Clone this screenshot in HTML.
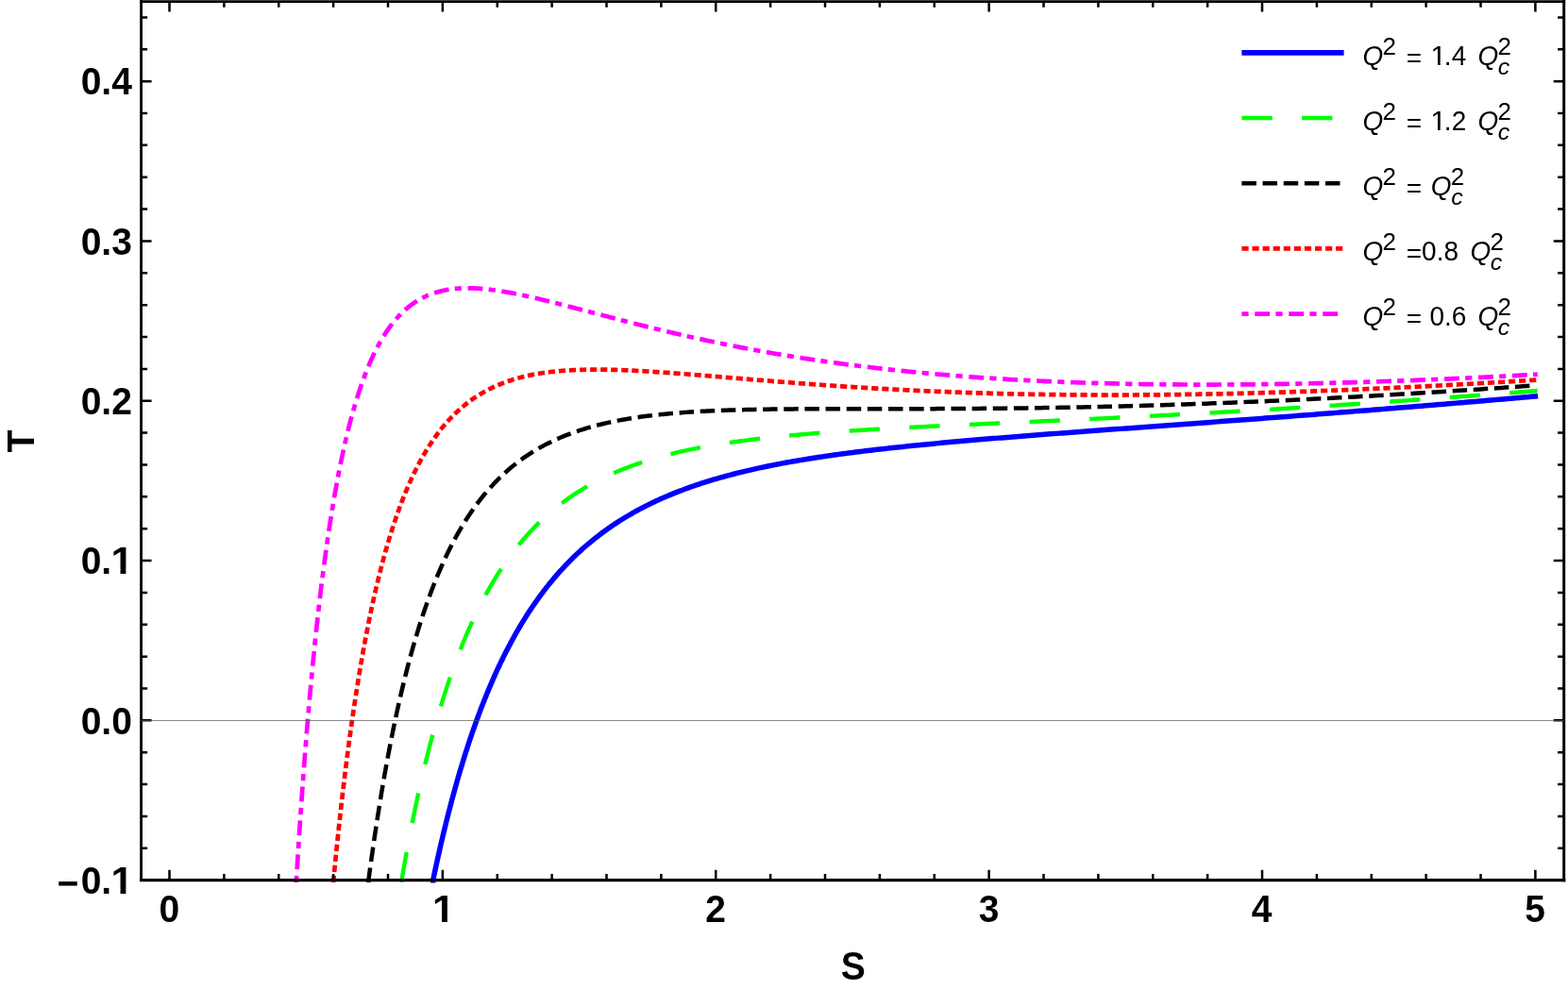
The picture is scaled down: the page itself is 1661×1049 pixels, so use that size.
<!DOCTYPE html>
<html lang="en"><head><meta charset="utf-8"><title>T versus S</title>
<style>html,body{margin:0;padding:0;background:#fff;}body{width:1661px;height:1049px;overflow:hidden;}svg{display:block;}text{font-family:"Liberation Sans",Arial,Helvetica,sans-serif;fill:#000;}</style></head><body>
<svg width="1661" height="1049" viewBox="0 0 1661 1049">
<rect x="0" y="0" width="1661" height="1049" fill="#ffffff"/>
<defs><clipPath id="one0"><path d="M438.02,933.35 H503.88 V972.00 H473.88 V981.30 H468.02 V972.00 H438.02 Z"/></clipPath><clipPath id="one1"><path d="M97.53,902.95 H163.39 V942.00 H133.39 V950.90 H127.53 V942.00 H97.53 Z"/></clipPath><clipPath id="one2"><path d="M97.53,564.35 H163.39 V603.00 H133.39 V612.30 H127.53 V603.00 H97.53 Z"/></clipPath><clipPath id="one3"><path d="M1492.98,36.39 H1555.70 V66.00 H1525.70 V72.65 H1522.98 V66.00 H1492.98 Z"/></clipPath><clipPath id="one4"><path d="M1492.98,105.44 H1555.70 V135.00 H1525.70 V141.70 H1522.98 V135.00 H1492.98 Z"/></clipPath></defs>
<g fill="none" stroke-linecap="square" stroke-linejoin="round">
<path d="M458.70,932.65 L458.70,932.65 L458.70,932.63 L458.71,932.60 L458.72,932.56 L458.73,932.50 L458.75,932.43 L458.76,932.34 L458.79,932.23 L458.81,932.11 L458.84,931.96 L458.88,931.80 L458.91,931.63 L458.95,931.43 L459.00,931.21 L459.05,930.98 L459.10,930.72 L459.16,930.45 L459.22,930.16 L459.29,929.84 L459.36,929.51 L459.43,929.15 L459.51,928.78 L459.59,928.38 L459.68,927.97 L459.77,927.53 L459.87,927.07 L459.97,926.59 L460.08,926.09 L460.19,925.57 L460.30,925.03 L460.42,924.47 L460.55,923.88 L460.68,923.28 L460.81,922.65 L460.95,922.00 L461.09,921.33 L461.24,920.64 L461.40,919.92 L461.56,919.19 L461.72,918.43 L461.89,917.65 L462.06,916.85 L462.24,916.03 L462.42,915.19 L462.61,914.33 L462.81,913.44 L463.00,912.54 L463.21,911.61 L463.42,910.66 L463.63,909.70 L463.85,908.71 L464.08,907.70 L464.31,906.67 L464.54,905.62 L464.78,904.54 L465.03,903.45 L465.28,902.34 L465.54,901.21 L465.80,900.06 L466.07,898.88 L466.34,897.69 L466.62,896.48 L466.90,895.25 L467.19,894.00 L467.49,892.73 L467.79,891.45 L468.09,890.14 L468.40,888.82 L468.72,887.47 L469.04,886.11 L469.37,884.73 L469.70,883.34 L470.04,881.92 L470.39,880.49 L470.74,879.04 L471.09,877.58 L471.45,876.09 L471.82,874.59 L472.19,873.08 L472.57,871.55 L472.96,870.00 L473.35,868.44 L473.74,866.86 L474.15,865.26 L474.55,863.66 L474.97,862.03 L475.38,860.39 L475.81,858.74 L476.24,857.08 L476.68,855.40 L477.12,853.70 L477.57,852.00 L478.02,850.28 L478.48,848.54 L478.95,846.80 L479.42,845.04 L479.90,843.27 L480.38,841.49 L480.87,839.70 L481.37,837.90 L481.87,836.08 L482.38,834.26 L482.89,832.42 L483.41,830.58 L483.94,828.72 L484.47,826.86 L485.00,824.98 L485.55,823.10 L486.10,821.21 L486.65,819.31 L487.22,817.40 L487.79,815.49 L488.36,813.56 L488.94,811.63 L489.53,809.69 L490.12,807.75 L490.72,805.80 L491.32,803.84 L491.93,801.87 L492.55,799.90 L493.18,797.93 L493.81,795.95 L494.44,793.96 L495.08,791.97 L495.73,789.98 L496.39,787.98 L497.05,785.98 L497.72,783.97 L498.39,781.96 L499.07,779.95 L499.76,777.94 L500.45,775.92 L501.15,773.90 L501.85,771.88 L502.57,769.85 L503.28,767.83 L504.01,765.80 L504.74,763.77 L505.48,761.74 L506.22,759.71 L506.97,757.69 L507.73,755.66 L508.49,753.63 L509.26,751.60 L510.03,749.57 L510.82,747.54 L511.60,745.52 L512.40,743.49 L513.20,741.47 L514.01,739.44 L514.82,737.43 L515.64,735.41 L516.47,733.39 L517.31,731.38 L518.15,729.37 L518.99,727.36 L519.85,725.36 L520.71,723.36 L521.57,721.36 L522.45,719.37 L523.33,717.38 L524.21,715.40 L525.11,713.42 L526.01,711.44 L526.91,709.47 L527.82,707.50 L528.74,705.54 L529.67,703.59 L530.60,701.64 L531.54,699.69 L532.49,697.75 L533.44,695.82 L534.40,693.89 L535.37,691.97 L536.34,690.06 L537.32,688.15 L538.30,686.25 L539.30,684.36 L540.30,682.47 L541.30,680.59 L542.32,678.71 L543.34,676.85 L544.36,674.99 L545.40,673.14 L546.44,671.30 L547.48,669.46 L548.54,667.64 L549.60,665.82 L550.66,664.01 L551.74,662.20 L552.82,660.41 L553.90,658.62 L555.00,656.85 L556.10,655.08 L557.21,653.32 L558.32,651.57 L559.44,649.82 L560.57,648.09 L561.71,646.37 L562.85,644.65 L564.00,642.95 L565.16,641.25 L566.32,639.57 L567.49,637.89 L568.67,636.22 L569.85,634.56 L571.04,632.91 L572.24,631.28 L573.44,629.65 L574.65,628.03 L575.87,626.42 L577.10,624.82 L578.33,623.23 L579.57,621.65 L580.81,620.08 L582.07,618.52 L583.33,616.97 L584.59,615.43 L585.87,613.90 L587.15,612.39 L588.44,610.88 L589.73,609.38 L591.03,607.89 L592.34,606.41 L593.66,604.95 L594.98,603.49 L596.31,602.04 L597.65,600.61 L598.99,599.18 L600.34,597.76 L601.70,596.36 L603.07,594.96 L604.44,593.58 L605.82,592.20 L607.21,590.84 L608.60,589.49 L610.00,588.14 L611.41,586.81 L612.82,585.49 L614.25,584.18 L615.68,582.87 L617.11,581.58 L618.56,580.30 L620.01,579.03 L621.47,577.77 L622.93,576.52 L624.40,575.28 L625.88,574.05 L627.37,572.83 L628.86,571.62 L630.36,570.42 L631.87,569.23 L633.39,568.05 L634.91,566.88 L636.44,565.72 L637.98,564.57 L639.52,563.43 L641.07,562.30 L642.63,561.18 L644.20,560.07 L645.77,558.96 L647.35,557.87 L648.94,556.79 L650.53,555.72 L652.14,554.66 L653.75,553.61 L655.36,552.56 L656.99,551.53 L658.62,550.50 L660.26,549.49 L661.90,548.48 L663.56,547.49 L665.22,546.50 L666.88,545.52 L668.56,544.55 L670.24,543.59 L671.93,542.64 L673.63,541.70 L675.33,540.77 L677.05,539.84 L678.77,538.93 L680.49,538.02 L682.23,537.12 L683.97,536.24 L685.72,535.36 L687.47,534.48 L689.24,533.62 L691.01,532.76 L692.78,531.92 L694.57,531.08 L696.36,530.25 L698.16,529.43 L699.97,528.61 L701.79,527.81 L703.61,527.01 L705.44,526.22 L707.28,525.43 L709.12,524.66 L710.98,523.89 L712.84,523.13 L714.70,522.38 L716.58,521.64 L718.46,520.90 L720.35,520.17 L722.25,519.45 L724.15,518.74 L726.06,518.03 L727.98,517.33 L729.91,516.64 L731.85,515.95 L733.79,515.27 L735.74,514.60 L737.69,513.93 L739.66,513.27 L741.63,512.62 L743.61,511.98 L745.60,511.34 L747.59,510.71 L749.60,510.08 L751.61,509.46 L753.62,508.85 L755.65,508.24 L757.68,507.64 L759.72,507.05 L761.77,506.46 L763.82,505.88 L765.89,505.30 L767.96,504.73 L770.04,504.17 L772.12,503.61 L774.21,503.06 L776.32,502.51 L778.42,501.97 L780.54,501.43 L782.66,500.90 L784.80,500.38 L786.93,499.86 L789.08,499.34 L791.23,498.84 L793.40,498.33 L795.57,497.83 L797.74,497.34 L799.93,496.85 L802.12,496.37 L804.32,495.89 L806.53,495.41 L808.74,494.94 L810.97,494.48 L813.20,494.02 L815.44,493.56 L817.68,493.11 L819.94,492.66 L822.20,492.22 L824.47,491.78 L826.74,491.35 L829.03,490.92 L831.32,490.50 L833.62,490.07 L835.93,489.66 L838.25,489.24 L840.57,488.83 L842.90,488.43 L845.24,488.03 L847.58,487.63 L849.94,487.24 L852.30,486.85 L854.67,486.46 L857.05,486.08 L859.43,485.70 L861.83,485.32 L864.23,484.95 L866.64,484.58 L869.05,484.21 L871.48,483.85 L873.91,483.49 L876.35,483.13 L878.80,482.78 L881.25,482.43 L883.72,482.08 L886.19,481.74 L888.67,481.40 L891.15,481.06 L893.65,480.72 L896.15,480.39 L898.66,480.06 L901.18,479.73 L903.70,479.41 L906.24,479.09 L908.78,478.77 L911.33,478.45 L913.88,478.14 L916.45,477.82 L919.02,477.51 L921.60,477.21 L924.19,476.90 L926.79,476.60 L929.39,476.30 L932.00,476.00 L934.63,475.70 L937.25,475.41 L939.89,475.11 L942.53,474.82 L945.18,474.53 L947.84,474.25 L950.51,473.96 L953.19,473.68 L955.87,473.40 L958.56,473.12 L961.26,472.84 L963.97,472.56 L966.68,472.29 L969.41,472.01 L972.14,471.74 L974.88,471.47 L977.62,471.20 L980.38,470.94 L983.14,470.67 L985.91,470.41 L988.69,470.14 L991.48,469.88 L994.27,469.62 L997.08,469.36 L999.89,469.10 L1002.71,468.85 L1005.53,468.59 L1008.37,468.33 L1011.21,468.08 L1014.06,467.83 L1016.92,467.57 L1019.79,467.32 L1022.66,467.07 L1025.54,466.82 L1028.43,466.58 L1031.33,466.33 L1034.24,466.08 L1037.15,465.84 L1040.08,465.59 L1043.01,465.35 L1045.95,465.10 L1048.89,464.86 L1051.85,464.61 L1054.81,464.37 L1057.78,464.13 L1060.76,463.89 L1063.75,463.65 L1066.74,463.41 L1069.75,463.17 L1072.76,462.93 L1075.78,462.69 L1078.81,462.45 L1081.84,462.21 L1084.89,461.98 L1087.94,461.74 L1091.00,461.50 L1094.07,461.26 L1097.14,461.03 L1100.23,460.79 L1103.32,460.55 L1106.42,460.32 L1109.53,460.08 L1112.64,459.84 L1115.77,459.61 L1118.90,459.37 L1122.04,459.13 L1125.19,458.90 L1128.35,458.66 L1131.51,458.42 L1134.69,458.19 L1137.87,457.95 L1141.06,457.71 L1144.26,457.48 L1147.46,457.24 L1150.68,457.00 L1153.90,456.76 L1157.13,456.53 L1160.37,456.29 L1163.62,456.05 L1166.87,455.81 L1170.14,455.57 L1173.41,455.33 L1176.69,455.09 L1179.98,454.85 L1183.27,454.61 L1186.58,454.37 L1189.89,454.13 L1193.21,453.89 L1196.54,453.65 L1199.88,453.40 L1203.22,453.16 L1206.58,452.92 L1209.94,452.67 L1213.31,452.43 L1216.69,452.18 L1220.07,451.94 L1223.47,451.69 L1226.87,451.44 L1230.28,451.19 L1233.70,450.95 L1237.13,450.70 L1240.57,450.45 L1244.01,450.20 L1247.46,449.94 L1250.92,449.69 L1254.39,449.44 L1257.87,449.19 L1261.36,448.93 L1264.85,448.68 L1268.35,448.42 L1271.86,448.16 L1275.38,447.91 L1278.91,447.65 L1282.44,447.39 L1285.99,447.13 L1289.54,446.87 L1293.10,446.60 L1296.67,446.34 L1300.25,446.08 L1303.83,445.81 L1307.42,445.55 L1311.03,445.28 L1314.64,445.01 L1318.25,444.74 L1321.88,444.47 L1325.52,444.20 L1329.16,443.93 L1332.81,443.66 L1336.47,443.39 L1340.14,443.11 L1343.82,442.84 L1347.50,442.56 L1351.20,442.28 L1354.90,442.00 L1358.61,441.72 L1362.33,441.44 L1366.05,441.16 L1369.79,440.87 L1373.53,440.59 L1377.29,440.30 L1381.05,440.02 L1384.81,439.73 L1388.59,439.44 L1392.38,439.15 L1396.17,438.85 L1399.97,438.56 L1403.78,438.27 L1407.60,437.97 L1411.43,437.67 L1415.27,437.38 L1419.11,437.08 L1422.96,436.78 L1426.83,436.47 L1430.70,436.17 L1434.57,435.87 L1438.46,435.56 L1442.36,435.25 L1446.26,434.94 L1450.17,434.64 L1454.09,434.32 L1458.02,434.01 L1461.96,433.70 L1465.90,433.38 L1469.86,433.07 L1473.82,432.75 L1477.79,432.43 L1481.77,432.11 L1485.76,431.79 L1489.75,431.46 L1493.76,431.14 L1497.77,430.81 L1501.79,430.48 L1505.82,430.15 L1509.86,429.82 L1513.91,429.49 L1517.97,429.16 L1522.03,428.82 L1526.10,428.49 L1530.18,428.15 L1534.27,427.81 L1538.37,427.47 L1542.48,427.13 L1546.59,426.78 L1550.72,426.44 L1554.85,426.09 L1558.99,425.74 L1563.14,425.39 L1567.30,425.04 L1571.46,424.69 L1575.64,424.33 L1579.82,423.98 L1584.01,423.62 L1588.21,423.26 L1592.42,422.90 L1596.64,422.54 L1600.86,422.17 L1605.10,421.81 L1609.34,421.44 L1613.59,421.07 L1617.85,420.70 L1622.12,420.33 L1626.40,419.96" stroke="#0000ff" stroke-width="5.5"/>
<path d="M425.47,932.65 L425.47,932.64 L425.47,932.62 L425.48,932.59 L425.48,932.53 L425.50,932.46 L425.51,932.37 L425.53,932.26 L425.56,932.12 L425.58,931.97 L425.61,931.79 L425.65,931.59 L425.68,931.36 L425.73,931.12 L425.77,930.84 L425.82,930.55 L425.88,930.23 L425.94,929.88 L426.00,929.52 L426.07,929.12 L426.14,928.70 L426.22,928.26 L426.30,927.79 L426.38,927.29 L426.47,926.77 L426.57,926.22 L426.67,925.65 L426.77,925.04 L426.88,924.42 L427.00,923.76 L427.11,923.08 L427.24,922.38 L427.37,921.65 L427.50,920.89 L427.64,920.10 L427.78,919.29 L427.93,918.45 L428.08,917.58 L428.24,916.69 L428.40,915.77 L428.57,914.83 L428.74,913.86 L428.92,912.86 L429.11,911.83 L429.30,910.79 L429.49,909.71 L429.69,908.61 L429.89,907.48 L430.10,906.33 L430.32,905.15 L430.54,903.94 L430.76,902.71 L431.00,901.46 L431.23,900.18 L431.47,898.87 L431.72,897.54 L431.98,896.19 L432.23,894.81 L432.50,893.41 L432.77,891.98 L433.04,890.54 L433.32,889.06 L433.61,887.57 L433.90,886.05 L434.20,884.51 L434.50,882.94 L434.81,881.36 L435.12,879.75 L435.44,878.12 L435.77,876.47 L436.10,874.79 L436.44,873.10 L436.78,871.39 L437.13,869.65 L437.49,867.90 L437.85,866.13 L438.21,864.33 L438.58,862.52 L438.96,860.69 L439.34,858.84 L439.73,856.97 L440.13,855.09 L440.53,853.19 L440.94,851.27 L441.35,849.33 L441.77,847.38 L442.19,845.41 L442.63,843.42 L443.06,841.42 L443.51,839.41 L443.95,837.38 L444.41,835.33 L444.87,833.28 L445.34,831.20 L445.81,829.12 L446.29,827.02 L446.78,824.91 L447.27,822.79 L447.76,820.65 L448.27,818.51 L448.78,816.35 L449.29,814.18 L449.82,812.00 L450.34,809.81 L450.88,807.62 L451.42,805.41 L451.97,803.19 L452.52,800.97 L453.08,798.73 L453.64,796.49 L454.22,794.25 L454.79,791.99 L455.38,789.73 L455.97,787.46 L456.57,785.19 L457.17,782.91 L457.78,780.62 L458.40,778.33 L459.02,776.04 L459.65,773.74 L460.28,771.44 L460.92,769.13 L461.57,766.82 L462.23,764.51 L462.89,762.20 L463.55,759.88 L464.23,757.56 L464.91,755.24 L465.59,752.92 L466.29,750.60 L466.99,748.28 L467.69,745.96 L468.40,743.64 L469.12,741.32 L469.85,739.00 L470.58,736.68 L471.32,734.36 L472.06,732.05 L472.82,729.73 L473.57,727.42 L474.34,725.11 L475.11,722.81 L475.89,720.51 L476.67,718.21 L477.46,715.91 L478.26,713.62 L479.07,711.34 L479.88,709.06 L480.69,706.78 L481.52,704.51 L482.35,702.24 L483.19,699.98 L484.03,697.73 L484.88,695.48 L485.74,693.24 L486.60,691.01 L487.48,688.78 L488.35,686.56 L489.24,684.35 L490.13,682.14 L491.03,679.94 L491.93,677.75 L492.84,675.57 L493.76,673.40 L494.69,671.23 L495.62,669.08 L496.56,666.93 L497.50,664.79 L498.46,662.67 L499.42,660.55 L500.38,658.44 L501.35,656.34 L502.33,654.25 L503.32,652.17 L504.31,650.10 L505.31,648.04 L506.32,646.00 L507.34,643.96 L508.36,641.94 L509.38,639.92 L510.42,637.92 L511.46,635.93 L512.51,633.95 L513.57,631.98 L514.63,630.02 L515.70,628.07 L516.77,626.14 L517.86,624.22 L518.95,622.31 L520.05,620.41 L521.15,618.53 L522.26,616.66 L523.38,614.79 L524.51,612.95 L525.64,611.11 L526.78,609.29 L527.92,607.48 L529.08,605.68 L530.24,603.90 L531.41,602.13 L532.58,600.37 L533.76,598.62 L534.95,596.89 L536.15,595.17 L537.35,593.47 L538.56,591.77 L539.78,590.09 L541.00,588.43 L542.23,586.78 L543.47,585.14 L544.72,583.51 L545.97,581.90 L547.23,580.30 L548.50,578.71 L549.77,577.14 L551.05,575.58 L552.34,574.03 L553.64,572.50 L554.94,570.98 L556.25,569.47 L557.57,567.98 L558.89,566.50 L560.23,565.03 L561.57,563.58 L562.91,562.14 L564.26,560.71 L565.63,559.30 L566.99,557.90 L568.37,556.51 L569.75,555.14 L571.14,553.78 L572.54,552.43 L573.94,551.09 L575.35,549.77 L576.77,548.46 L578.20,547.17 L579.63,545.89 L581.07,544.62 L582.52,543.36 L583.98,542.12 L585.44,540.88 L586.91,539.67 L588.39,538.46 L589.87,537.27 L591.36,536.08 L592.86,534.92 L594.37,533.76 L595.89,532.62 L597.41,531.48 L598.94,530.36 L600.47,529.26 L602.02,528.16 L603.57,527.08 L605.13,526.01 L606.69,524.95 L608.26,523.90 L609.85,522.86 L611.43,521.84 L613.03,520.83 L614.63,519.83 L616.24,518.84 L617.86,517.86 L619.49,516.89 L621.12,515.94 L622.76,514.99 L624.41,514.06 L626.06,513.14 L627.73,512.22 L629.40,511.32 L631.07,510.43 L632.76,509.55 L634.45,508.69 L636.15,507.83 L637.86,506.98 L639.58,506.14 L641.30,505.32 L643.03,504.50 L644.77,503.69 L646.51,502.89 L648.27,502.11 L650.03,501.33 L651.79,500.56 L653.57,499.81 L655.35,499.06 L657.14,498.32 L658.94,497.59 L660.75,496.87 L662.56,496.16 L664.38,495.46 L666.21,494.77 L668.05,494.08 L669.89,493.41 L671.75,492.74 L673.60,492.08 L675.47,491.44 L677.35,490.80 L679.23,490.16 L681.12,489.54 L683.02,488.93 L684.92,488.32 L686.83,487.72 L688.75,487.13 L690.68,486.55 L692.62,485.97 L694.56,485.41 L696.51,484.85 L698.47,484.30 L700.44,483.75 L702.41,483.22 L704.40,482.69 L706.39,482.17 L708.38,481.65 L710.39,481.14 L712.40,480.64 L714.42,480.15 L716.45,479.66 L718.49,479.18 L720.53,478.71 L722.58,478.24 L724.64,477.78 L726.71,477.33 L728.78,476.88 L730.87,476.44 L732.96,476.00 L735.05,475.57 L737.16,475.15 L739.27,474.73 L741.40,474.32 L743.53,473.92 L745.66,473.52 L747.81,473.12 L749.96,472.74 L752.12,472.35 L754.29,471.97 L756.47,471.60 L758.65,471.24 L760.84,470.87 L763.04,470.52 L765.25,470.17 L767.47,469.82 L769.69,469.48 L771.92,469.14 L774.16,468.81 L776.41,468.48 L778.66,468.16 L780.92,467.84 L783.19,467.53 L785.47,467.22 L787.76,466.91 L790.05,466.61 L792.36,466.31 L794.67,466.02 L796.98,465.73 L799.31,465.45 L801.64,465.17 L803.99,464.89 L806.34,464.62 L808.69,464.35 L811.06,464.08 L813.43,463.82 L815.81,463.56 L818.20,463.30 L820.60,463.05 L823.01,462.80 L825.42,462.56 L827.84,462.32 L830.27,462.08 L832.71,461.84 L835.15,461.61 L837.61,461.38 L840.07,461.15 L842.54,460.93 L845.01,460.71 L847.50,460.49 L849.99,460.28 L852.49,460.06 L855.00,459.85 L857.52,459.64 L860.04,459.44 L862.58,459.24 L865.12,459.03 L867.67,458.84 L870.23,458.64 L872.79,458.45 L875.36,458.25 L877.95,458.07 L880.54,457.88 L883.13,457.69 L885.74,457.51 L888.35,457.33 L890.98,457.15 L893.61,456.97 L896.24,456.79 L898.89,456.62 L901.54,456.45 L904.21,456.27 L906.88,456.10 L909.55,455.94 L912.24,455.77 L914.94,455.60 L917.64,455.44 L920.35,455.28 L923.07,455.12 L925.80,454.96 L928.53,454.80 L931.28,454.64 L934.03,454.48 L936.79,454.33 L939.56,454.18 L942.33,454.02 L945.12,453.87 L947.91,453.72 L950.71,453.57 L953.52,453.42 L956.33,453.27 L959.16,453.12 L961.99,452.97 L964.83,452.83 L967.68,452.68 L970.54,452.54 L973.41,452.39 L976.28,452.25 L979.16,452.11 L982.06,451.96 L984.95,451.82 L987.86,451.68 L990.78,451.54 L993.70,451.40 L996.63,451.25 L999.57,451.11 L1002.52,450.97 L1005.48,450.83 L1008.44,450.69 L1011.41,450.55 L1014.40,450.41 L1017.39,450.27 L1020.38,450.14 L1023.39,450.00 L1026.40,449.86 L1029.43,449.72 L1032.46,449.58 L1035.50,449.44 L1038.54,449.30 L1041.60,449.16 L1044.66,449.02 L1047.74,448.88 L1050.82,448.74 L1053.90,448.60 L1057.00,448.46 L1060.11,448.32 L1063.22,448.18 L1066.34,448.03 L1069.47,447.89 L1072.61,447.75 L1075.76,447.61 L1078.91,447.46 L1082.08,447.32 L1085.25,447.18 L1088.43,447.03 L1091.62,446.89 L1094.82,446.74 L1098.02,446.60 L1101.24,446.45 L1104.46,446.30 L1107.69,446.15 L1110.93,446.01 L1114.17,445.86 L1117.43,445.71 L1120.69,445.56 L1123.97,445.40 L1127.25,445.25 L1130.54,445.10 L1133.83,444.95 L1137.14,444.79 L1140.45,444.64 L1143.78,444.48 L1147.11,444.32 L1150.45,444.17 L1153.79,444.01 L1157.15,443.85 L1160.52,443.69 L1163.89,443.53 L1167.27,443.36 L1170.66,443.20 L1174.06,443.04 L1177.47,442.87 L1180.88,442.70 L1184.31,442.54 L1187.74,442.37 L1191.18,442.20 L1194.63,442.03 L1198.09,441.85 L1201.55,441.68 L1205.03,441.51 L1208.51,441.33 L1212.00,441.16 L1215.50,440.98 L1219.01,440.80 L1222.53,440.62 L1226.05,440.44 L1229.58,440.26 L1233.13,440.07 L1236.68,439.89 L1240.24,439.70 L1243.81,439.51 L1247.38,439.32 L1250.97,439.13 L1254.56,438.94 L1258.16,438.75 L1261.77,438.56 L1265.39,438.36 L1269.02,438.16 L1272.65,437.97 L1276.30,437.77 L1279.95,437.57 L1283.61,437.36 L1287.28,437.16 L1290.96,436.95 L1294.65,436.75 L1298.35,436.54 L1302.05,436.33 L1305.76,436.12 L1309.48,435.91 L1313.21,435.69 L1316.95,435.48 L1320.70,435.26 L1324.46,435.04 L1328.22,434.82 L1331.99,434.60 L1335.77,434.38 L1339.56,434.15 L1343.36,433.92 L1347.17,433.70 L1350.99,433.47 L1354.81,433.24 L1358.64,433.00 L1362.49,432.77 L1366.34,432.53 L1370.20,432.30 L1374.06,432.06 L1377.94,431.82 L1381.82,431.57 L1385.72,431.33 L1389.62,431.08 L1393.53,430.84 L1397.45,430.59 L1401.38,430.34 L1405.31,430.09 L1409.26,429.83 L1413.21,429.58 L1417.17,429.32 L1421.15,429.06 L1425.13,428.80 L1429.11,428.54 L1433.11,428.27 L1437.12,428.01 L1441.13,427.74 L1445.16,427.47 L1449.19,427.20 L1453.23,426.92 L1457.28,426.65 L1461.33,426.37 L1465.40,426.09 L1469.48,425.81 L1473.56,425.53 L1477.65,425.25 L1481.75,424.96 L1485.86,424.68 L1489.98,424.39 L1494.11,424.10 L1498.25,423.80 L1502.39,423.51 L1506.55,423.21 L1510.71,422.92 L1514.88,422.62 L1519.06,422.31 L1523.25,422.01 L1527.44,421.71 L1531.65,421.40 L1535.87,421.09 L1540.09,420.78 L1544.32,420.47 L1548.56,420.15 L1552.81,419.84 L1557.07,419.52 L1561.34,419.20 L1565.61,418.88 L1569.90,418.55 L1574.19,418.23 L1578.49,417.90 L1582.81,417.57 L1587.13,417.24 L1591.45,416.91 L1595.79,416.57 L1600.14,416.23 L1604.49,415.89 L1608.86,415.55 L1613.23,415.21 L1617.61,414.87 L1622.00,414.52 L1626.40,414.17" stroke="#00ff00" stroke-width="4.4" stroke-dasharray="27.90 35.80"/>
<path d="M390.40,932.65 L390.40,932.64 L390.41,932.62 L390.41,932.57 L390.42,932.50 L390.44,932.40 L390.45,932.28 L390.47,932.13 L390.49,931.95 L390.52,931.74 L390.55,931.51 L390.59,931.24 L390.63,930.94 L390.67,930.62 L390.72,930.26 L390.77,929.87 L390.83,929.44 L390.89,928.99 L390.95,928.50 L391.02,927.98 L391.10,927.42 L391.18,926.84 L391.26,926.21 L391.35,925.56 L391.44,924.87 L391.54,924.15 L391.64,923.39 L391.75,922.59 L391.86,921.77 L391.98,920.91 L392.10,920.01 L392.23,919.08 L392.36,918.11 L392.50,917.11 L392.64,916.08 L392.78,915.01 L392.94,913.91 L393.09,912.77 L393.26,911.60 L393.42,910.39 L393.60,909.15 L393.78,907.88 L393.96,906.57 L394.15,905.23 L394.34,903.85 L394.54,902.45 L394.75,901.01 L394.96,899.53 L395.18,898.03 L395.40,896.49 L395.62,894.92 L395.86,893.31 L396.09,891.68 L396.34,890.01 L396.59,888.32 L396.84,886.59 L397.10,884.83 L397.37,883.04 L397.64,881.23 L397.92,879.38 L398.20,877.50 L398.49,875.60 L398.78,873.67 L399.08,871.71 L399.39,869.72 L399.70,867.70 L400.02,865.66 L400.34,863.59 L400.67,861.50 L401.01,859.38 L401.35,857.23 L401.70,855.07 L402.05,852.87 L402.41,850.66 L402.77,848.42 L403.14,846.15 L403.52,843.87 L403.90,841.56 L404.29,839.24 L404.69,836.89 L405.09,834.52 L405.49,832.13 L405.91,829.72 L406.33,827.30 L406.75,824.85 L407.18,822.39 L407.62,819.91 L408.06,817.41 L408.51,814.90 L408.97,812.37 L409.43,809.83 L409.90,807.27 L410.37,804.70 L410.85,802.12 L411.34,799.52 L411.83,796.91 L412.33,794.29 L412.84,791.65 L413.35,789.01 L413.87,786.35 L414.40,783.69 L414.93,781.01 L415.46,778.33 L416.01,775.64 L416.56,772.94 L417.11,770.23 L417.68,767.52 L418.25,764.80 L418.82,762.08 L419.40,759.35 L419.99,756.61 L420.59,753.87 L421.19,751.13 L421.80,748.39 L422.41,745.64 L423.03,742.89 L423.66,740.14 L424.29,737.38 L424.93,734.63 L425.58,731.88 L426.24,729.12 L426.90,726.37 L427.56,723.62 L428.24,720.87 L428.92,718.12 L429.60,715.37 L430.30,712.63 L431.00,709.89 L431.70,707.16 L432.41,704.42 L433.13,701.70 L433.86,698.98 L434.59,696.26 L435.33,693.55 L436.08,690.85 L436.83,688.15 L437.59,685.46 L438.36,682.78 L439.13,680.10 L439.91,677.44 L440.70,674.78 L441.50,672.13 L442.30,669.49 L443.10,666.86 L443.92,664.24 L444.74,661.63 L445.57,659.03 L446.40,656.44 L447.24,653.86 L448.09,651.30 L448.95,648.74 L449.81,646.20 L450.68,643.67 L451.55,641.15 L452.44,638.65 L453.33,636.15 L454.22,633.67 L455.13,631.21 L456.04,628.76 L456.95,626.32 L457.88,623.90 L458.81,621.49 L459.75,619.09 L460.69,616.71 L461.64,614.35 L462.60,612.00 L463.57,609.67 L464.54,607.35 L465.52,605.05 L466.51,602.76 L467.51,600.49 L468.51,598.24 L469.52,596.00 L470.53,593.78 L471.55,591.57 L472.58,589.39 L473.62,587.21 L474.66,585.06 L475.71,582.92 L476.77,580.80 L477.84,578.70 L478.91,576.62 L479.99,574.55 L481.07,572.50 L482.17,570.47 L483.27,568.45 L484.38,566.45 L485.49,564.47 L486.61,562.51 L487.74,560.57 L488.88,558.64 L490.02,556.74 L491.18,554.85 L492.33,552.97 L493.50,551.12 L494.67,549.29 L495.85,547.47 L497.04,545.67 L498.23,543.89 L499.44,542.12 L500.65,540.38 L501.86,538.65 L503.08,536.94 L504.32,535.25 L505.55,533.58 L506.80,531.93 L508.05,530.29 L509.31,528.67 L510.58,527.07 L511.85,525.49 L513.14,523.92 L514.43,522.37 L515.72,520.84 L517.03,519.33 L518.34,517.84 L519.66,516.36 L520.98,514.90 L522.32,513.46 L523.66,512.04 L525.01,510.63 L526.36,509.24 L527.73,507.87 L529.10,506.51 L530.48,505.17 L531.86,503.85 L533.25,502.55 L534.65,501.26 L536.06,499.99 L537.48,498.73 L538.90,497.50 L540.33,496.27 L541.77,495.07 L543.21,493.88 L544.67,492.71 L546.13,491.55 L547.60,490.41 L549.07,489.29 L550.55,488.18 L552.04,487.08 L553.54,486.00 L555.05,484.94 L556.56,483.89 L558.08,482.86 L559.61,481.84 L561.14,480.84 L562.69,479.85 L564.24,478.88 L565.80,477.92 L567.36,476.98 L568.94,476.05 L570.52,475.13 L572.11,474.23 L573.70,473.35 L575.31,472.47 L576.92,471.61 L578.54,470.77 L580.17,469.94 L581.80,469.12 L583.44,468.31 L585.09,467.52 L586.75,466.74 L588.42,465.97 L590.09,465.22 L591.77,464.48 L593.46,463.75 L595.15,463.03 L596.86,462.33 L598.57,461.64 L600.29,460.96 L602.01,460.29 L603.75,459.63 L605.49,458.99 L607.24,458.35 L609.00,457.73 L610.76,457.12 L612.54,456.52 L614.32,455.93 L616.11,455.36 L617.90,454.79 L619.71,454.23 L621.52,453.69 L623.34,453.15 L625.17,452.63 L627.00,452.11 L628.85,451.61 L630.70,451.11 L632.56,450.63 L634.42,450.15 L636.30,449.69 L638.18,449.23 L640.07,448.78 L641.97,448.34 L643.87,447.92 L645.79,447.50 L647.71,447.08 L649.64,446.68 L651.57,446.29 L653.52,445.90 L655.47,445.52 L657.43,445.15 L659.40,444.79 L661.38,444.44 L663.36,444.10 L665.36,443.76 L667.36,443.43 L669.36,443.11 L671.38,442.79 L673.40,442.48 L675.44,442.18 L677.48,441.89 L679.52,441.60 L681.58,441.32 L683.64,441.05 L685.72,440.79 L687.79,440.53 L689.88,440.27 L691.98,440.03 L694.08,439.79 L696.19,439.55 L698.31,439.33 L700.44,439.10 L702.58,438.89 L704.72,438.68 L706.87,438.47 L709.03,438.27 L711.20,438.08 L713.37,437.89 L715.56,437.71 L717.75,437.53 L719.95,437.36 L722.16,437.19 L724.37,437.03 L726.60,436.87 L728.83,436.72 L731.07,436.57 L733.31,436.42 L735.57,436.28 L737.83,436.15 L740.11,436.02 L742.39,435.89 L744.68,435.77 L746.97,435.65 L749.28,435.53 L751.59,435.42 L753.91,435.32 L756.24,435.21 L758.58,435.11 L760.92,435.02 L763.27,434.92 L765.63,434.84 L768.00,434.75 L770.38,434.67 L772.77,434.59 L775.16,434.51 L777.56,434.44 L779.97,434.37 L782.39,434.30 L784.82,434.23 L787.25,434.17 L789.70,434.11 L792.15,434.06 L794.61,434.00 L797.07,433.95 L799.55,433.90 L802.03,433.85 L804.53,433.81 L807.03,433.77 L809.53,433.73 L812.05,433.69 L814.58,433.65 L817.11,433.62 L819.65,433.58 L822.20,433.55 L824.76,433.52 L827.32,433.50 L829.90,433.47 L832.48,433.45 L835.07,433.42 L837.67,433.40 L840.28,433.38 L842.89,433.37 L845.52,433.35 L848.15,433.33 L850.79,433.32 L853.44,433.30 L856.09,433.29 L858.76,433.28 L861.43,433.27 L864.11,433.26 L866.80,433.25 L869.50,433.25 L872.21,433.24 L874.93,433.23 L877.65,433.23 L880.38,433.22 L883.12,433.22 L885.87,433.22 L888.63,433.21 L891.39,433.21 L894.16,433.21 L896.95,433.21 L899.74,433.20 L902.53,433.20 L905.34,433.20 L908.16,433.20 L910.98,433.20 L913.81,433.20 L916.65,433.20 L919.50,433.20 L922.36,433.20 L925.22,433.20 L928.10,433.20 L930.98,433.20 L933.87,433.20 L936.77,433.20 L939.68,433.20 L942.59,433.20 L945.52,433.20 L948.45,433.20 L951.39,433.20 L954.34,433.19 L957.30,433.19 L960.27,433.19 L963.24,433.18 L966.23,433.18 L969.22,433.18 L972.22,433.17 L975.23,433.17 L978.24,433.16 L981.27,433.15 L984.31,433.14 L987.35,433.14 L990.40,433.13 L993.46,433.12 L996.53,433.11 L999.60,433.10 L1002.69,433.08 L1005.78,433.07 L1008.89,433.06 L1012.00,433.04 L1015.12,433.03 L1018.24,433.01 L1021.38,432.99 L1024.52,432.97 L1027.68,432.95 L1030.84,432.93 L1034.01,432.91 L1037.19,432.89 L1040.38,432.87 L1043.57,432.84 L1046.78,432.81 L1049.99,432.79 L1053.21,432.76 L1056.44,432.73 L1059.68,432.70 L1062.93,432.66 L1066.19,432.63 L1069.45,432.59 L1072.72,432.56 L1076.01,432.52 L1079.30,432.48 L1082.59,432.44 L1085.90,432.40 L1089.22,432.36 L1092.54,432.31 L1095.88,432.26 L1099.22,432.22 L1102.57,432.17 L1105.93,432.12 L1109.30,432.06 L1112.67,432.01 L1116.06,431.96 L1119.45,431.90 L1122.85,431.84 L1126.27,431.78 L1129.69,431.72 L1133.11,431.66 L1136.55,431.59 L1140.00,431.52 L1143.45,431.46 L1146.91,431.39 L1150.39,431.31 L1153.87,431.24 L1157.35,431.17 L1160.85,431.09 L1164.36,431.01 L1167.87,430.93 L1171.40,430.85 L1174.93,430.76 L1178.47,430.68 L1182.02,430.59 L1185.58,430.50 L1189.15,430.41 L1192.72,430.32 L1196.31,430.22 L1199.90,430.13 L1203.50,430.03 L1207.11,429.93 L1210.73,429.83 L1214.36,429.72 L1218.00,429.62 L1221.65,429.51 L1225.30,429.40 L1228.96,429.29 L1232.63,429.17 L1236.32,429.06 L1240.01,428.94 L1243.70,428.82 L1247.41,428.70 L1251.13,428.57 L1254.85,428.45 L1258.58,428.32 L1262.33,428.19 L1266.08,428.06 L1269.84,427.93 L1273.61,427.79 L1277.38,427.65 L1281.17,427.51 L1284.96,427.37 L1288.77,427.23 L1292.58,427.08 L1296.40,426.94 L1300.23,426.79 L1304.07,426.63 L1307.92,426.48 L1311.78,426.32 L1315.64,426.16 L1319.51,426.00 L1323.40,425.84 L1327.29,425.68 L1331.19,425.51 L1335.10,425.34 L1339.02,425.17 L1342.95,425.00 L1346.88,424.82 L1350.83,424.65 L1354.78,424.47 L1358.74,424.28 L1362.71,424.10 L1366.70,423.91 L1370.68,423.73 L1374.68,423.54 L1378.69,423.34 L1382.71,423.15 L1386.73,422.95 L1390.76,422.75 L1394.81,422.55 L1398.86,422.35 L1402.92,422.14 L1406.99,421.94 L1411.07,421.73 L1415.15,421.51 L1419.25,421.30 L1423.35,421.08 L1427.47,420.86 L1431.59,420.64 L1435.72,420.42 L1439.86,420.19 L1444.01,419.97 L1448.17,419.74 L1452.34,419.51 L1456.52,419.27 L1460.70,419.03 L1464.89,418.80 L1469.10,418.55 L1473.31,418.31 L1477.53,418.07 L1481.76,417.82 L1486.00,417.57 L1490.25,417.32 L1494.51,417.06 L1498.77,416.81 L1503.05,416.55 L1507.33,416.29 L1511.62,416.02 L1515.92,415.76 L1520.24,415.49 L1524.56,415.22 L1528.88,414.95 L1533.22,414.67 L1537.57,414.40 L1541.92,414.12 L1546.29,413.83 L1550.66,413.55 L1555.05,413.27 L1559.44,412.98 L1563.84,412.69 L1568.25,412.39 L1572.67,412.10 L1577.10,411.80 L1581.53,411.50 L1585.98,411.20 L1590.43,410.90 L1594.90,410.59 L1599.37,410.28 L1603.85,409.97 L1608.34,409.66 L1612.84,409.34 L1617.35,409.03 L1621.87,408.71 L1626.40,408.38" stroke="#000000" stroke-width="4.5" stroke-dasharray="11.00 11.15"/>
<path d="M353.30,932.65 L353.30,932.64 L353.31,932.60 L353.31,932.53 L353.32,932.43 L353.34,932.29 L353.35,932.12 L353.37,931.90 L353.40,931.65 L353.43,931.35 L353.46,931.02 L353.49,930.63 L353.54,930.21 L353.58,929.74 L353.63,929.23 L353.68,928.67 L353.74,928.07 L353.80,927.42 L353.87,926.72 L353.94,925.97 L354.02,925.18 L354.10,924.34 L354.19,923.46 L354.28,922.52 L354.37,921.54 L354.47,920.51 L354.58,919.43 L354.69,918.30 L354.80,917.13 L354.93,915.90 L355.05,914.63 L355.18,913.31 L355.32,911.94 L355.46,910.52 L355.60,909.06 L355.76,907.54 L355.91,905.98 L356.08,904.37 L356.24,902.72 L356.42,901.01 L356.59,899.26 L356.78,897.47 L356.97,895.63 L357.16,893.74 L357.36,891.81 L357.57,889.83 L357.78,887.81 L358.00,885.74 L358.22,883.63 L358.45,881.48 L358.68,879.28 L358.92,877.04 L359.17,874.76 L359.42,872.44 L359.67,870.08 L359.94,867.68 L360.20,865.24 L360.48,862.76 L360.76,860.24 L361.04,857.68 L361.34,855.09 L361.63,852.46 L361.94,849.80 L362.25,847.10 L362.56,844.37 L362.88,841.60 L363.21,838.80 L363.54,835.97 L363.88,833.11 L364.23,830.22 L364.58,827.30 L364.94,824.34 L365.30,821.37 L365.67,818.36 L366.04,815.33 L366.43,812.27 L366.81,809.18 L367.21,806.07 L367.61,802.94 L368.02,799.79 L368.43,796.61 L368.85,793.42 L369.27,790.20 L369.70,786.96 L370.14,783.71 L370.59,780.44 L371.04,777.15 L371.49,773.85 L371.96,770.53 L372.43,767.19 L372.90,763.85 L373.39,760.49 L373.87,757.11 L374.37,753.73 L374.87,750.34 L375.38,746.94 L375.89,743.53 L376.41,740.11 L376.94,736.69 L377.48,733.26 L378.02,729.82 L378.56,726.38 L379.12,722.94 L379.68,719.49 L380.24,716.04 L380.82,712.59 L381.40,709.14 L381.98,705.69 L382.58,702.24 L383.17,698.80 L383.78,695.35 L384.39,691.91 L385.01,688.47 L385.64,685.04 L386.27,681.61 L386.91,678.19 L387.56,674.77 L388.21,671.36 L388.87,667.96 L389.54,664.57 L390.21,661.19 L390.89,657.81 L391.58,654.45 L392.27,651.10 L392.97,647.76 L393.68,644.43 L394.39,641.12 L395.11,637.81 L395.84,634.53 L396.58,631.25 L397.32,627.99 L398.07,624.75 L398.82,621.52 L399.58,618.31 L400.35,615.11 L401.13,611.94 L401.91,608.78 L402.70,605.64 L403.50,602.51 L404.30,599.41 L405.11,596.32 L405.93,593.26 L406.75,590.21 L407.59,587.19 L408.42,584.19 L409.27,581.20 L410.12,578.24 L410.98,575.30 L411.85,572.39 L412.72,569.49 L413.60,566.62 L414.49,563.77 L415.39,560.95 L416.29,558.15 L417.20,555.37 L418.12,552.61 L419.04,549.88 L419.97,547.18 L420.91,544.50 L421.85,541.84 L422.80,539.21 L423.76,536.60 L424.73,534.02 L425.70,531.46 L426.68,528.93 L427.67,526.43 L428.67,523.95 L429.67,521.50 L430.68,519.07 L431.70,516.67 L432.72,514.29 L433.75,511.95 L434.79,509.62 L435.84,507.33 L436.89,505.06 L437.95,502.81 L439.02,500.60 L440.09,498.40 L441.18,496.24 L442.26,494.10 L443.36,491.99 L444.47,489.90 L445.58,487.85 L446.70,485.81 L447.82,483.81 L448.96,481.83 L450.10,479.87 L451.25,477.95 L452.40,476.04 L453.57,474.17 L454.74,472.32 L455.92,470.49 L457.10,468.70 L458.29,466.92 L459.49,465.18 L460.70,463.46 L461.92,461.76 L463.14,460.09 L464.37,458.45 L465.61,456.83 L466.85,455.23 L468.11,453.66 L469.37,452.12 L470.64,450.59 L471.91,449.10 L473.19,447.63 L474.48,446.18 L475.78,444.75 L477.09,443.35 L478.40,441.98 L479.72,440.62 L481.05,439.29 L482.39,437.99 L483.73,436.70 L485.08,435.44 L486.44,434.21 L487.80,432.99 L489.18,431.80 L490.56,430.63 L491.95,429.48 L493.34,428.35 L494.75,427.24 L496.16,426.16 L497.58,425.10 L499.01,424.06 L500.44,423.03 L501.89,422.03 L503.34,421.05 L504.79,420.10 L506.26,419.16 L507.73,418.24 L509.21,417.34 L510.70,416.46 L512.20,415.60 L513.70,414.75 L515.21,413.93 L516.73,413.13 L518.26,412.34 L519.80,411.57 L521.34,410.82 L522.89,410.09 L524.45,409.38 L526.01,408.68 L527.59,408.00 L529.17,407.34 L530.76,406.70 L532.36,406.07 L533.96,405.45 L535.58,404.86 L537.20,404.28 L538.83,403.72 L540.46,403.17 L542.11,402.64 L543.76,402.12 L545.42,401.62 L547.09,401.13 L548.76,400.66 L550.45,400.20 L552.14,399.75 L553.84,399.32 L555.54,398.91 L557.26,398.51 L558.98,398.12 L560.71,397.74 L562.45,397.38 L564.20,397.03 L565.95,396.69 L567.72,396.37 L569.49,396.06 L571.27,395.76 L573.05,395.47 L574.85,395.20 L576.65,394.93 L578.46,394.68 L580.28,394.44 L582.11,394.21 L583.94,393.99 L585.78,393.79 L587.63,393.59 L589.49,393.40 L591.36,393.22 L593.23,393.06 L595.11,392.90 L597.00,392.75 L598.90,392.62 L600.81,392.49 L602.72,392.37 L604.65,392.26 L606.58,392.16 L608.52,392.07 L610.46,391.99 L612.42,391.91 L614.38,391.84 L616.35,391.79 L618.33,391.74 L620.32,391.69 L622.31,391.66 L624.32,391.63 L626.33,391.61 L628.35,391.60 L630.38,391.59 L632.41,391.60 L634.46,391.60 L636.51,391.62 L638.57,391.64 L640.64,391.67 L642.71,391.70 L644.80,391.74 L646.89,391.79 L648.99,391.84 L651.10,391.90 L653.22,391.97 L655.35,392.03 L657.48,392.11 L659.62,392.19 L661.77,392.27 L663.93,392.36 L666.10,392.46 L668.27,392.56 L670.46,392.66 L672.65,392.77 L674.85,392.89 L677.05,393.00 L679.27,393.13 L681.49,393.25 L683.73,393.38 L685.97,393.52 L688.22,393.65 L690.47,393.80 L692.74,393.94 L695.01,394.09 L697.30,394.24 L699.59,394.40 L701.89,394.55 L704.19,394.72 L706.51,394.88 L708.83,395.05 L711.16,395.22 L713.50,395.39 L715.85,395.56 L718.21,395.74 L720.58,395.92 L722.95,396.10 L725.33,396.29 L727.72,396.47 L730.12,396.66 L732.53,396.85 L734.94,397.05 L737.37,397.24 L739.80,397.44 L742.24,397.64 L744.69,397.84 L747.15,398.04 L749.61,398.24 L752.09,398.44 L754.57,398.65 L757.06,398.85 L759.56,399.06 L762.07,399.27 L764.58,399.48 L767.11,399.69 L769.64,399.90 L772.18,400.11 L774.73,400.32 L777.29,400.54 L779.86,400.75 L782.43,400.97 L785.01,401.18 L787.61,401.40 L790.21,401.61 L792.82,401.83 L795.43,402.05 L798.06,402.26 L800.69,402.48 L803.34,402.70 L805.99,402.91 L808.65,403.13 L811.32,403.35 L813.99,403.56 L816.68,403.78 L819.37,403.99 L822.08,404.21 L824.79,404.42 L827.51,404.64 L830.24,404.85 L832.97,405.07 L835.72,405.28 L838.47,405.49 L841.23,405.71 L844.00,405.92 L846.78,406.13 L849.57,406.34 L852.37,406.55 L855.17,406.76 L857.99,406.96 L860.81,407.17 L863.64,407.38 L866.48,407.58 L869.33,407.78 L872.19,407.99 L875.05,408.19 L877.92,408.39 L880.81,408.59 L883.70,408.78 L886.60,408.98 L889.51,409.18 L892.42,409.37 L895.35,409.56 L898.28,409.75 L901.23,409.94 L904.18,410.13 L907.14,410.32 L910.11,410.50 L913.08,410.69 L916.07,410.87 L919.07,411.05 L922.07,411.23 L925.08,411.40 L928.10,411.58 L931.13,411.75 L934.17,411.93 L937.22,412.10 L940.27,412.26 L943.34,412.43 L946.41,412.60 L949.49,412.76 L952.58,412.92 L955.68,413.08 L958.79,413.24 L961.91,413.39 L965.03,413.55 L968.17,413.70 L971.31,413.85 L974.46,413.99 L977.62,414.14 L980.79,414.28 L983.97,414.42 L987.15,414.56 L990.35,414.70 L993.55,414.83 L996.77,414.97 L999.99,415.10 L1003.22,415.22 L1006.46,415.35 L1009.71,415.47 L1012.96,415.60 L1016.23,415.71 L1019.50,415.83 L1022.79,415.95 L1026.08,416.06 L1029.38,416.17 L1032.69,416.28 L1036.01,416.38 L1039.34,416.48 L1042.67,416.58 L1046.02,416.68 L1049.37,416.78 L1052.73,416.87 L1056.10,416.96 L1059.48,417.05 L1062.87,417.14 L1066.27,417.22 L1069.68,417.30 L1073.09,417.38 L1076.52,417.46 L1079.95,417.53 L1083.40,417.60 L1086.85,417.67 L1090.31,417.74 L1093.78,417.80 L1097.25,417.86 L1100.74,417.92 L1104.24,417.97 L1107.74,418.03 L1111.25,418.08 L1114.78,418.13 L1118.31,418.17 L1121.85,418.21 L1125.40,418.25 L1128.95,418.29 L1132.52,418.33 L1136.10,418.36 L1139.68,418.39 L1143.28,418.41 L1146.88,418.44 L1150.49,418.46 L1154.11,418.48 L1157.74,418.50 L1161.38,418.51 L1165.03,418.52 L1168.68,418.53 L1172.35,418.53 L1176.02,418.54 L1179.71,418.54 L1183.40,418.53 L1187.10,418.53 L1190.81,418.52 L1194.53,418.51 L1198.26,418.50 L1201.99,418.48 L1205.74,418.46 L1209.50,418.44 L1213.26,418.42 L1217.03,418.39 L1220.82,418.36 L1224.61,418.33 L1228.41,418.29 L1232.22,418.25 L1236.03,418.21 L1239.86,418.17 L1243.70,418.12 L1247.54,418.07 L1251.40,418.02 L1255.26,417.97 L1259.13,417.91 L1263.02,417.85 L1266.91,417.78 L1270.81,417.72 L1274.72,417.65 L1278.63,417.58 L1282.56,417.50 L1286.50,417.43 L1290.44,417.35 L1294.40,417.26 L1298.36,417.18 L1302.33,417.09 L1306.31,417.00 L1310.30,416.91 L1314.30,416.81 L1318.31,416.71 L1322.33,416.61 L1326.36,416.50 L1330.39,416.40 L1334.44,416.29 L1338.49,416.17 L1342.56,416.06 L1346.63,415.94 L1350.71,415.82 L1354.80,415.69 L1358.90,415.57 L1363.01,415.44 L1367.13,415.30 L1371.25,415.17 L1375.39,415.03 L1379.54,414.89 L1383.69,414.74 L1387.86,414.60 L1392.03,414.45 L1396.21,414.30 L1400.40,414.14 L1404.60,413.98 L1408.81,413.82 L1413.03,413.66 L1417.26,413.49 L1421.50,413.33 L1425.74,413.15 L1430.00,412.98 L1434.26,412.80 L1438.54,412.62 L1442.82,412.44 L1447.11,412.25 L1451.42,412.07 L1455.73,411.88 L1460.05,411.68 L1464.38,411.49 L1468.71,411.29 L1473.06,411.08 L1477.42,410.88 L1481.79,410.67 L1486.16,410.46 L1490.55,410.25 L1494.94,410.03 L1499.34,409.82 L1503.76,409.59 L1508.18,409.37 L1512.61,409.14 L1517.05,408.91 L1521.50,408.68 L1525.96,408.45 L1530.43,408.21 L1534.90,407.97 L1539.39,407.73 L1543.88,407.48 L1548.39,407.23 L1552.90,406.98 L1557.43,406.73 L1561.96,406.47 L1566.50,406.21 L1571.06,405.95 L1575.62,405.69 L1580.19,405.42 L1584.77,405.15 L1589.35,404.87 L1593.95,404.60 L1598.56,404.32 L1603.18,404.04 L1607.80,403.76 L1612.44,403.47 L1617.08,403.18 L1621.74,402.89 L1626.40,402.60" stroke="#ff0000" stroke-width="4.7" stroke-dasharray="2.50 8.57"/>
<path d="M313.93,932.65 L313.93,932.63 L313.94,932.57 L313.94,932.46 L313.95,932.30 L313.97,932.07 L313.99,931.79 L314.01,931.44 L314.03,931.03 L314.06,930.55 L314.09,930.00 L314.13,929.38 L314.17,928.70 L314.22,927.94 L314.27,927.11 L314.33,926.21 L314.38,925.23 L314.45,924.18 L314.52,923.05 L314.59,921.85 L314.67,920.58 L314.76,919.22 L314.84,917.79 L314.94,916.29 L315.04,914.71 L315.14,913.05 L315.25,911.32 L315.36,909.51 L315.48,907.62 L315.61,905.66 L315.74,903.62 L315.87,901.51 L316.01,899.32 L316.16,897.06 L316.31,894.72 L316.46,892.31 L316.62,889.83 L316.79,887.27 L316.96,884.65 L317.14,881.95 L317.33,879.18 L317.52,876.34 L317.71,873.43 L317.91,870.46 L318.12,867.41 L318.33,864.31 L318.55,861.13 L318.77,857.90 L319.00,854.60 L319.24,851.23 L319.48,847.81 L319.72,844.33 L319.98,840.79 L320.24,837.19 L320.50,833.53 L320.77,829.82 L321.05,826.06 L321.33,822.25 L321.62,818.38 L321.91,814.46 L322.21,810.50 L322.52,806.49 L322.83,802.43 L323.15,798.33 L323.48,794.19 L323.81,790.01 L324.15,785.78 L324.49,781.52 L324.84,777.22 L325.19,772.89 L325.56,768.52 L325.93,764.12 L326.30,759.69 L326.68,755.23 L327.07,750.75 L327.46,746.23 L327.86,741.70 L328.27,737.13 L328.68,732.55 L329.10,727.95 L329.53,723.33 L329.96,718.69 L330.40,714.04 L330.84,709.37 L331.29,704.69 L331.75,700.00 L332.22,695.30 L332.69,690.60 L333.16,685.88 L333.65,681.16 L334.14,676.44 L334.64,671.72 L335.14,666.99 L335.65,662.26 L336.17,657.54 L336.69,652.82 L337.22,648.10 L337.76,643.39 L338.30,638.69 L338.85,634.00 L339.41,629.31 L339.97,624.64 L340.54,619.98 L341.12,615.33 L341.71,610.70 L342.30,606.08 L342.89,601.48 L343.50,596.90 L344.11,592.33 L344.73,587.79 L345.35,583.27 L345.99,578.77 L346.62,574.29 L347.27,569.84 L347.92,565.41 L348.58,561.01 L349.25,556.64 L349.92,552.29 L350.60,547.97 L351.29,543.68 L351.98,539.42 L352.68,535.20 L353.39,531.00 L354.11,526.84 L354.83,522.71 L355.56,518.61 L356.29,514.55 L357.04,510.52 L357.79,506.53 L358.54,502.58 L359.31,498.66 L360.08,494.78 L360.86,490.94 L361.64,487.14 L362.44,483.37 L363.24,479.64 L364.04,475.96 L364.86,472.31 L365.68,468.70 L366.51,465.14 L367.34,461.61 L368.19,458.13 L369.04,454.69 L369.89,451.29 L370.76,447.93 L371.63,444.62 L372.51,441.34 L373.40,438.11 L374.29,434.93 L375.19,431.78 L376.10,428.68 L377.01,425.62 L377.94,422.61 L378.87,419.63 L379.80,416.71 L380.75,413.82 L381.70,410.98 L382.66,408.18 L383.63,405.42 L384.60,402.71 L385.58,400.04 L386.57,397.42 L387.57,394.84 L388.57,392.30 L389.58,389.80 L390.60,387.35 L391.63,384.93 L392.66,382.57 L393.70,380.24 L394.75,377.96 L395.81,375.71 L396.87,373.51 L397.94,371.35 L399.02,369.24 L400.10,367.16 L401.20,365.13 L402.30,363.13 L403.41,361.18 L404.52,359.26 L405.65,357.39 L406.78,355.56 L407.92,353.76 L409.06,352.01 L410.22,350.29 L411.38,348.61 L412.55,346.97 L413.72,345.37 L414.91,343.81 L416.10,342.28 L417.30,340.79 L418.50,339.34 L419.72,337.92 L420.94,336.54 L422.17,335.19 L423.41,333.89 L424.65,332.61 L425.91,331.37 L427.17,330.16 L428.44,328.99 L429.71,327.85 L431.00,326.75 L432.29,325.67 L433.59,324.63 L434.89,323.63 L436.21,322.65 L437.53,321.70 L438.86,320.79 L440.20,319.91 L441.55,319.05 L442.90,318.23 L444.26,317.43 L445.63,316.67 L447.01,315.93 L448.39,315.22 L449.78,314.54 L451.19,313.89 L452.59,313.27 L454.01,312.67 L455.43,312.10 L456.87,311.55 L458.31,311.03 L459.75,310.53 L461.21,310.06 L462.67,309.62 L464.14,309.20 L465.62,308.80 L467.11,308.43 L468.61,308.08 L470.11,307.75 L471.62,307.44 L473.14,307.16 L474.66,306.90 L476.20,306.66 L477.74,306.44 L479.29,306.24 L480.85,306.06 L482.42,305.90 L483.99,305.77 L485.58,305.65 L487.17,305.55 L488.76,305.47 L490.37,305.40 L491.99,305.36 L493.61,305.33 L495.24,305.32 L496.88,305.33 L498.52,305.35 L500.18,305.39 L501.84,305.45 L503.51,305.52 L505.19,305.61 L506.88,305.71 L508.57,305.83 L510.28,305.96 L511.99,306.11 L513.71,306.27 L515.44,306.44 L517.17,306.63 L518.92,306.83 L520.67,307.05 L522.43,307.27 L524.20,307.51 L525.97,307.76 L527.76,308.03 L529.55,308.30 L531.35,308.59 L533.16,308.88 L534.98,309.19 L536.80,309.51 L538.64,309.84 L540.48,310.17 L542.33,310.52 L544.19,310.88 L546.05,311.25 L547.93,311.62 L549.81,312.01 L551.70,312.40 L553.60,312.80 L555.51,313.21 L557.42,313.63 L559.35,314.06 L561.28,314.49 L563.22,314.93 L565.17,315.38 L567.13,315.84 L569.09,316.30 L571.07,316.77 L573.05,317.24 L575.04,317.72 L577.04,318.21 L579.05,318.70 L581.06,319.20 L583.09,319.70 L585.12,320.21 L587.16,320.73 L589.21,321.24 L591.26,321.77 L593.33,322.30 L595.40,322.83 L597.48,323.36 L599.58,323.91 L601.67,324.45 L603.78,325.00 L605.90,325.55 L608.02,326.11 L610.15,326.66 L612.29,327.23 L614.44,327.79 L616.60,328.36 L618.77,328.93 L620.94,329.50 L623.12,330.08 L625.32,330.66 L627.52,331.24 L629.72,331.82 L631.94,332.40 L634.17,332.99 L636.40,333.58 L638.64,334.16 L640.89,334.76 L643.15,335.35 L645.42,335.94 L647.70,336.53 L649.98,337.13 L652.27,337.73 L654.58,338.32 L656.89,338.92 L659.20,339.52 L661.53,340.12 L663.87,340.72 L666.21,341.31 L668.56,341.91 L670.93,342.51 L673.30,343.11 L675.67,343.71 L678.06,344.31 L680.46,344.91 L682.86,345.51 L685.27,346.11 L687.69,346.71 L690.12,347.30 L692.56,347.90 L695.01,348.49 L697.47,349.09 L699.93,349.68 L702.40,350.28 L704.88,350.87 L707.37,351.46 L709.87,352.05 L712.38,352.63 L714.90,353.22 L717.42,353.81 L719.95,354.39 L722.50,354.97 L725.05,355.55 L727.61,356.13 L730.17,356.71 L732.75,357.29 L735.34,357.86 L737.93,358.43 L740.53,359.00 L743.14,359.57 L745.76,360.14 L748.39,360.70 L751.03,361.26 L753.68,361.82 L756.33,362.38 L759.00,362.93 L761.67,363.48 L764.35,364.03 L767.04,364.58 L769.74,365.13 L772.44,365.67 L775.16,366.21 L777.88,366.75 L780.62,367.28 L783.36,367.82 L786.11,368.34 L788.87,368.87 L791.64,369.40 L794.42,369.92 L797.20,370.44 L800.00,370.95 L802.80,371.46 L805.61,371.97 L808.44,372.48 L811.27,372.98 L814.11,373.48 L816.95,373.98 L819.81,374.47 L822.68,374.97 L825.55,375.45 L828.43,375.94 L831.32,376.42 L834.23,376.90 L837.13,377.37 L840.05,377.85 L842.98,378.31 L845.92,378.78 L848.86,379.24 L851.82,379.70 L854.78,380.15 L857.75,380.61 L860.73,381.05 L863.72,381.50 L866.72,381.94 L869.73,382.38 L872.74,382.81 L875.77,383.24 L878.80,383.67 L881.84,384.09 L884.90,384.51 L887.96,384.93 L891.03,385.34 L894.10,385.75 L897.19,386.16 L900.29,386.56 L903.39,386.96 L906.51,387.35 L909.63,387.74 L912.76,388.13 L915.90,388.51 L919.06,388.89 L922.21,389.27 L925.38,389.64 L928.56,390.01 L931.75,390.38 L934.94,390.74 L938.14,391.09 L941.36,391.45 L944.58,391.80 L947.81,392.14 L951.05,392.49 L954.30,392.82 L957.56,393.16 L960.83,393.49 L964.10,393.82 L967.39,394.14 L970.68,394.46 L973.98,394.77 L977.30,395.09 L980.62,395.39 L983.95,395.70 L987.29,396.00 L990.64,396.29 L993.99,396.59 L997.36,396.88 L1000.74,397.16 L1004.12,397.44 L1007.51,397.72 L1010.92,397.99 L1014.33,398.26 L1017.75,398.53 L1021.18,398.79 L1024.62,399.04 L1028.07,399.30 L1031.53,399.55 L1034.99,399.79 L1038.47,400.04 L1041.95,400.27 L1045.45,400.51 L1048.95,400.74 L1052.46,400.96 L1055.98,401.19 L1059.51,401.41 L1063.05,401.62 L1066.60,401.83 L1070.16,402.04 L1073.73,402.24 L1077.30,402.44 L1080.89,402.64 L1084.48,402.83 L1088.09,403.02 L1091.70,403.20 L1095.32,403.38 L1098.95,403.56 L1102.59,403.73 L1106.24,403.90 L1109.90,404.06 L1113.57,404.22 L1117.25,404.38 L1120.94,404.53 L1124.63,404.68 L1128.34,404.83 L1132.05,404.97 L1135.77,405.10 L1139.51,405.24 L1143.25,405.37 L1147.00,405.49 L1150.76,405.62 L1154.53,405.74 L1158.31,405.85 L1162.10,405.96 L1165.89,406.07 L1169.70,406.17 L1173.51,406.27 L1177.34,406.37 L1181.17,406.46 L1185.02,406.55 L1188.87,406.63 L1192.73,406.71 L1196.60,406.79 L1200.48,406.86 L1204.37,406.93 L1208.27,407.00 L1212.18,407.06 L1216.10,407.12 L1220.03,407.17 L1223.96,407.22 L1227.91,407.27 L1231.86,407.31 L1235.83,407.35 L1239.80,407.39 L1243.78,407.42 L1247.78,407.45 L1251.78,407.48 L1255.79,407.50 L1259.81,407.51 L1263.84,407.53 L1267.88,407.54 L1271.93,407.55 L1275.99,407.55 L1280.05,407.55 L1284.13,407.54 L1288.21,407.54 L1292.31,407.52 L1296.41,407.51 L1300.53,407.49 L1304.65,407.47 L1308.78,407.44 L1312.93,407.41 L1317.08,407.38 L1321.24,407.34 L1325.41,407.30 L1329.59,407.26 L1333.78,407.21 L1337.98,407.16 L1342.18,407.10 L1346.40,407.05 L1350.63,406.99 L1354.86,406.92 L1359.11,406.85 L1363.36,406.78 L1367.63,406.70 L1371.90,406.62 L1376.19,406.54 L1380.48,406.46 L1384.78,406.37 L1389.09,406.27 L1393.41,406.18 L1397.74,406.08 L1402.08,405.97 L1406.43,405.87 L1410.79,405.76 L1415.16,405.64 L1419.54,405.52 L1423.93,405.40 L1428.32,405.28 L1432.73,405.15 L1437.14,405.02 L1441.57,404.89 L1446.00,404.75 L1450.45,404.61 L1454.90,404.46 L1459.37,404.32 L1463.84,404.16 L1468.32,404.01 L1472.81,403.85 L1477.31,403.69 L1481.82,403.53 L1486.35,403.36 L1490.88,403.19 L1495.41,403.01 L1499.96,402.84 L1504.52,402.65 L1509.09,402.47 L1513.67,402.28 L1518.25,402.09 L1522.85,401.90 L1527.46,401.70 L1532.07,401.50 L1536.70,401.29 L1541.33,401.09 L1545.98,400.88 L1550.63,400.66 L1555.30,400.45 L1559.97,400.23 L1564.65,400.00 L1569.34,399.78 L1574.05,399.55 L1578.76,399.31 L1583.48,399.08 L1588.21,398.84 L1592.95,398.59 L1597.70,398.35 L1602.46,398.10 L1607.23,397.85 L1612.01,397.59 L1616.79,397.33 L1621.59,397.07 L1626.40,396.81" stroke="#ff00ff" stroke-width="4.7" stroke-dasharray="2.50 11.35 11.20 10.95"/>
</g>
<path d="M179.50,932.70 V921.70 M179.50,1.50 V12.60 M237.38,932.70 V926.10 M237.38,1.50 V7.80 M295.25,932.70 V926.10 M295.25,1.50 V7.80 M353.13,932.70 V926.10 M353.13,1.50 V7.80 M411.00,932.70 V926.10 M411.00,1.50 V7.80 M468.88,932.70 V921.70 M468.88,1.50 V12.60 M526.76,932.70 V926.10 M526.76,1.50 V7.80 M584.63,932.70 V926.10 M584.63,1.50 V7.80 M642.51,932.70 V926.10 M642.51,1.50 V7.80 M700.38,932.70 V926.10 M700.38,1.50 V7.80 M758.26,932.70 V921.70 M758.26,1.50 V12.60 M816.14,932.70 V926.10 M816.14,1.50 V7.80 M874.01,932.70 V926.10 M874.01,1.50 V7.80 M931.89,932.70 V926.10 M931.89,1.50 V7.80 M989.76,932.70 V926.10 M989.76,1.50 V7.80 M1047.64,932.70 V921.70 M1047.64,1.50 V12.60 M1105.52,932.70 V926.10 M1105.52,1.50 V7.80 M1163.39,932.70 V926.10 M1163.39,1.50 V7.80 M1221.27,932.70 V926.10 M1221.27,1.50 V7.80 M1279.14,932.70 V926.10 M1279.14,1.50 V7.80 M1337.02,932.70 V921.70 M1337.02,1.50 V12.60 M1394.90,932.70 V926.10 M1394.90,1.50 V7.80 M1452.77,932.70 V926.10 M1452.77,1.50 V7.80 M1510.65,932.70 V926.10 M1510.65,1.50 V7.80 M1568.52,932.70 V926.10 M1568.52,1.50 V7.80 M1626.40,932.70 V921.70 M1626.40,1.50 V12.60 M149.55,932.65 h11.00 M1656.70,932.65 h-11.00 M149.55,898.79 h6.60 M1656.70,898.79 h-6.60 M149.55,864.93 h6.60 M1656.70,864.93 h-6.60 M149.55,831.07 h6.60 M1656.70,831.07 h-6.60 M149.55,797.21 h6.60 M1656.70,797.21 h-6.60 M149.55,763.35 h11.00 M1656.70,763.35 h-11.00 M149.55,729.49 h6.60 M1656.70,729.49 h-6.60 M149.55,695.63 h6.60 M1656.70,695.63 h-6.60 M149.55,661.77 h6.60 M1656.70,661.77 h-6.60 M149.55,627.91 h6.60 M1656.70,627.91 h-6.60 M149.55,594.05 h11.00 M1656.70,594.05 h-11.00 M149.55,560.19 h6.60 M1656.70,560.19 h-6.60 M149.55,526.33 h6.60 M1656.70,526.33 h-6.60 M149.55,492.47 h6.60 M1656.70,492.47 h-6.60 M149.55,458.61 h6.60 M1656.70,458.61 h-6.60 M149.55,424.75 h11.00 M1656.70,424.75 h-11.00 M149.55,390.89 h6.60 M1656.70,390.89 h-6.60 M149.55,357.03 h6.60 M1656.70,357.03 h-6.60 M149.55,323.17 h6.60 M1656.70,323.17 h-6.60 M149.55,289.31 h6.60 M1656.70,289.31 h-6.60 M149.55,255.45 h11.00 M1656.70,255.45 h-11.00 M149.55,221.59 h6.60 M1656.70,221.59 h-6.60 M149.55,187.73 h6.60 M1656.70,187.73 h-6.60 M149.55,153.87 h6.60 M1656.70,153.87 h-6.60 M149.55,120.01 h6.60 M1656.70,120.01 h-6.60 M149.55,86.15 h11.00 M1656.70,86.15 h-11.00 M149.55,52.29 h6.60 M1656.70,52.29 h-6.60 M149.55,18.43 h6.60 M1656.70,18.43 h-6.60" stroke="#000" stroke-width="2.5" fill="none"/>
<g stroke="#000" fill="none" stroke-linecap="square">
<line x1="149.55" y1="1.50" x2="1656.70" y2="1.50" stroke-width="2.75"/>
<line x1="149.55" y1="932.70" x2="1656.70" y2="932.70" stroke-width="3.2"/>
<line x1="149.55" y1="1.50" x2="149.55" y2="932.70" stroke-width="2.8"/>
<line x1="1656.70" y1="1.50" x2="1656.70" y2="932.70" stroke-width="3.0"/>
</g>
<line x1="149.25" y1="763.50" x2="1656.70" y2="763.50" stroke="#555" stroke-opacity="0.69" stroke-width="1"/>
<line x1="1315.40" y1="55.80" x2="1423.60" y2="55.80" stroke="#0000ff" stroke-width="5.7"/>
<line x1="1315.40" y1="125.00" x2="1423.30" y2="125.00" stroke="#00ff00" stroke-width="4.6" stroke-dasharray="32.30 31.40"/>
<line x1="1315.40" y1="194.20" x2="1423.30" y2="194.20" stroke="#000000" stroke-width="4.5" stroke-dasharray="15.50 6.65"/>
<line x1="1315.40" y1="263.40" x2="1423.30" y2="263.40" stroke="#ff0000" stroke-width="4.7" stroke-dasharray="7.20 3.88"/>
<line x1="1315.40" y1="332.60" x2="1423.30" y2="332.60" stroke="#ff00ff" stroke-width="4.7" stroke-dasharray="7.20 6.65 15.90 6.25"/>
<text style="font-weight:bold;font-size:39px" transform="translate(168.50,977.30) scale(1.000,1.050)">0</text>
<g clip-path="url(#one0)"><text style="font-weight:bold;font-size:39px" transform="translate(457.95,977.30) scale(1.100,1.050)">1</text></g>
<text style="font-weight:bold;font-size:39px" transform="translate(747.26,977.30) scale(1.000,1.050)">2</text>
<text style="font-weight:bold;font-size:39px" transform="translate(1036.76,977.30) scale(1.000,1.050)">3</text>
<text style="font-weight:bold;font-size:39px" transform="translate(1325.77,977.30) scale(1.000,1.050)">4</text>
<text style="font-weight:bold;font-size:39px" transform="translate(1615.28,977.30) scale(1.000,1.050)">5</text>
<g><text style="font-weight:bold;font-size:39px" transform="translate(60.80,950.22) scale(1.000,1.050)">−</text><text style="font-weight:bold;font-size:39px" transform="translate(85.65,946.90) scale(1.000,1.050)">0.</text><g clip-path="url(#one1)"><text style="font-weight:bold;font-size:39px" transform="translate(117.60,946.90) scale(1.100,1.050)">1</text></g></g>
<g><text style="font-weight:bold;font-size:39px" transform="translate(85.65,777.60) scale(1.000,1.050)">0.0</text></g>
<g><text style="font-weight:bold;font-size:39px" transform="translate(85.65,608.30) scale(1.000,1.050)">0.</text><g clip-path="url(#one2)"><text style="font-weight:bold;font-size:39px" transform="translate(117.60,608.30) scale(1.100,1.050)">1</text></g></g>
<g><text style="font-weight:bold;font-size:39px" transform="translate(85.65,439.00) scale(1.000,1.050)">0.2</text></g>
<g><text style="font-weight:bold;font-size:39px" transform="translate(85.65,269.70) scale(1.000,1.050)">0.3</text></g>
<g><text style="font-weight:bold;font-size:39px" transform="translate(85.65,100.40) scale(1.000,1.050)">0.4</text></g>
<text style="font-weight:bold;font-size:39px" transform="translate(890.67,1038.30) scale(1.000,1.070)">S</text>
<text style="font-weight:bold;font-size:39px" transform="translate(36.0,479.50) rotate(-90) scale(1,1.050)">T</text>
<g><text style="font-size:28px;font-style:italic" transform="translate(1443.60,68.65) scale(1.000,1.045)">Q</text><text style="font-size:26px" transform="translate(1464.60,57.70) scale(1.000,1.025)">2</text><text style="font-size:28px" x="1489.75" y="70.50">=</text><g clip-path="url(#one3)"><text style="font-size:28px" transform="translate(1515.13,68.65) scale(1.100,1.045)">1</text></g><text style="font-size:28px" transform="translate(1529.87,68.65) scale(1.000,1.045)">.4</text><text style="font-size:28px;font-style:italic" transform="translate(1565.40,68.65) scale(1.000,1.045)">Q</text><text style="font-size:26px" transform="translate(1586.45,57.70) scale(1.000,1.025)">2</text><text style="font-size:25px;font-style:italic" transform="translate(1586.75,79.05) scale(1.000,0.960)">c</text></g>
<g><text style="font-size:28px;font-style:italic" transform="translate(1443.60,137.70) scale(1.000,1.045)">Q</text><text style="font-size:26px" transform="translate(1464.60,126.75) scale(1.000,1.025)">2</text><text style="font-size:28px" x="1489.75" y="139.55">=</text><g clip-path="url(#one4)"><text style="font-size:28px" transform="translate(1515.13,137.70) scale(1.100,1.045)">1</text></g><text style="font-size:28px" transform="translate(1529.87,137.70) scale(1.000,1.045)">.2</text><text style="font-size:28px;font-style:italic" transform="translate(1565.40,137.70) scale(1.000,1.045)">Q</text><text style="font-size:26px" transform="translate(1586.45,126.75) scale(1.000,1.025)">2</text><text style="font-size:25px;font-style:italic" transform="translate(1586.75,148.10) scale(1.000,0.960)">c</text></g>
<g><text style="font-size:28px;font-style:italic" transform="translate(1443.60,206.75) scale(1.000,1.045)">Q</text><text style="font-size:26px" transform="translate(1464.60,195.80) scale(1.000,1.025)">2</text><text style="font-size:28px" x="1489.75" y="208.60">=</text><text style="font-size:28px;font-style:italic" transform="translate(1515.80,206.75) scale(1.000,1.045)">Q</text><text style="font-size:26px" transform="translate(1536.85,195.80) scale(1.000,1.025)">2</text><text style="font-size:25px;font-style:italic" transform="translate(1537.15,217.15) scale(1.000,0.960)">c</text></g>
<g><text style="font-size:28px;font-style:italic" transform="translate(1443.60,275.80) scale(1.000,1.045)">Q</text><text style="font-size:26px" transform="translate(1464.60,264.85) scale(1.000,1.025)">2</text><text style="font-size:28px" x="1489.75" y="277.65">=</text><text style="font-size:28px" transform="translate(1506.10,275.80) scale(1.000,1.045)">0.8</text><text style="font-size:28px;font-style:italic" transform="translate(1557.50,275.80) scale(1.000,1.045)">Q</text><text style="font-size:26px" transform="translate(1578.55,264.85) scale(1.000,1.025)">2</text><text style="font-size:25px;font-style:italic" transform="translate(1578.85,286.20) scale(1.000,0.960)">c</text></g>
<g><text style="font-size:28px;font-style:italic" transform="translate(1443.60,344.85) scale(1.000,1.045)">Q</text><text style="font-size:26px" transform="translate(1464.60,333.90) scale(1.000,1.025)">2</text><text style="font-size:28px" x="1489.75" y="346.70">=</text><text style="font-size:28px" transform="translate(1514.50,344.85) scale(1.000,1.045)">0.6</text><text style="font-size:28px;font-style:italic" transform="translate(1565.40,344.85) scale(1.000,1.045)">Q</text><text style="font-size:26px" transform="translate(1586.45,333.90) scale(1.000,1.025)">2</text><text style="font-size:25px;font-style:italic" transform="translate(1586.75,355.25) scale(1.000,0.960)">c</text></g>
</svg></body></html>
